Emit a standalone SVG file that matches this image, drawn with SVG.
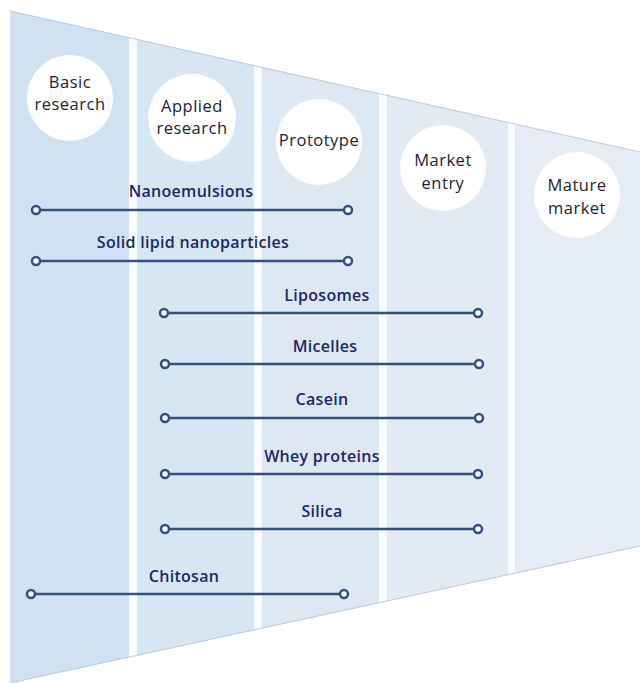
<svg xmlns="http://www.w3.org/2000/svg" width="640" height="683" viewBox="0 0 640 683">
  <style>
    .stage { font-family: "Open Sans", "Liberation Sans", sans-serif; font-size: 16.5px; font-weight: 500; fill: #1c2433; text-anchor: middle; letter-spacing: 0.5px; }
    .item { font-family: "Open Sans", "Liberation Sans", sans-serif; font-size: 16px; font-weight: 600; fill: #1e2766; text-anchor: middle; letter-spacing: 0.3px; }
    .bubble { fill: #ffffff; }
    .bar { stroke: #34507e; stroke-width: 2.5; fill: none; }
    .end { fill: #f4f8fc; stroke: #34507e; stroke-width: 2.5; }
    .sep { fill: #fafcfe; }
  </style>
  <defs>
    <clipPath id="funnel">
      <polygon points="10,11 640,152 640,546 10,683"/>
    </clipPath>
  </defs>

  <rect width="640" height="683" fill="#ffffff"/>

  <!-- funnel columns -->
  <g id="funnel-body" clip-path="url(#funnel)">
    <rect x="10" y="0" width="120" height="683" fill="#d0e2f2"/>
    <rect x="137" y="0" width="118" height="683" fill="#d7e6f3"/>
    <rect x="262" y="0" width="118" height="683" fill="#dde8f3"/>
    <rect x="387" y="0" width="122" height="683" fill="#e2eaf4"/>
    <rect x="515" y="0" width="125" height="683" fill="#e6ecf5"/>
    <rect class="sep" x="129" y="0" width="8" height="683"/>
    <rect class="sep" x="254" y="0" width="8" height="683"/>
    <rect class="sep" x="379" y="0" width="8" height="683"/>
    <rect class="sep" x="508" y="0" width="7" height="683"/>
  </g>
  <polyline points="10,11 640,152" fill="none" stroke="#b9c9dc" stroke-width="1"/>
  <polyline points="10,683 640,546" fill="none" stroke="#b9c9dc" stroke-width="1"/>

  <!-- stage bubbles -->
  <g id="stage-basic">
    <circle class="bubble" cx="70" cy="98" r="43"/>
    <text class="stage" x="70" y="88">Basic</text>
    <text class="stage" x="70" y="110">research</text>
  </g>
  <g id="stage-applied">
    <circle class="bubble" cx="192" cy="118" r="44"/>
    <text class="stage" x="192" y="112">Applied</text>
    <text class="stage" x="192" y="134">research</text>
  </g>
  <g id="stage-prototype">
    <circle class="bubble" cx="319" cy="142" r="43"/>
    <text class="stage" x="319" y="146">Prototype</text>
  </g>
  <g id="stage-market-entry">
    <circle class="bubble" cx="443" cy="168" r="43"/>
    <text class="stage" x="443" y="166">Market</text>
    <text class="stage" x="443" y="189">entry</text>
  </g>
  <g id="stage-mature-market">
    <circle class="bubble" cx="577" cy="195" r="43"/>
    <text class="stage" x="577" y="191">Mature</text>
    <text class="stage" x="577" y="214">market</text>
  </g>

  <!-- technology ranges -->
  <g id="connectors">
    <line class="bar" x1="36" y1="210" x2="348" y2="210"/>
    <line class="bar" x1="36" y1="261" x2="348" y2="261"/>
    <line class="bar" x1="164" y1="313" x2="478" y2="313"/>
    <line class="bar" x1="165" y1="364" x2="479" y2="364"/>
    <line class="bar" x1="165" y1="418" x2="479" y2="418"/>
    <line class="bar" x1="165" y1="474" x2="478" y2="474"/>
    <line class="bar" x1="165" y1="529" x2="478" y2="529"/>
    <line class="bar" x1="31" y1="594" x2="344" y2="594"/>
  </g>

  <g id="item-nanoemulsions">
    <circle class="end" cx="36" cy="210" r="4"/>
    <circle class="end" cx="348" cy="210" r="4"/>
    <text class="item" x="191" y="197">Nanoemulsions</text>
  </g>
  <g id="item-sln">
    <circle class="end" cx="36" cy="261" r="4"/>
    <circle class="end" cx="348" cy="261" r="4"/>
    <text class="item" x="193" y="248">Solid lipid nanoparticles</text>
  </g>
  <g id="item-liposomes">
    <circle class="end" cx="164" cy="313" r="4"/>
    <circle class="end" cx="478" cy="313" r="4"/>
    <text class="item" x="327" y="301">Liposomes</text>
  </g>
  <g id="item-micelles">
    <circle class="end" cx="165" cy="364" r="4"/>
    <circle class="end" cx="479" cy="364" r="4"/>
    <text class="item" x="325" y="352">Micelles</text>
  </g>
  <g id="item-casein">
    <circle class="end" cx="165" cy="418" r="4"/>
    <circle class="end" cx="479" cy="418" r="4"/>
    <text class="item" x="322" y="405">Casein</text>
  </g>
  <g id="item-whey">
    <circle class="end" cx="165" cy="474" r="4"/>
    <circle class="end" cx="478" cy="474" r="4"/>
    <text class="item" x="322" y="462">Whey proteins</text>
  </g>
  <g id="item-silica">
    <circle class="end" cx="165" cy="529" r="4"/>
    <circle class="end" cx="478" cy="529" r="4"/>
    <text class="item" x="322" y="517">Silica</text>
  </g>
  <g id="item-chitosan">
    <circle class="end" cx="31" cy="594" r="4"/>
    <circle class="end" cx="344" cy="594" r="4"/>
    <text class="item" x="184" y="582">Chitosan</text>
  </g>
</svg>
